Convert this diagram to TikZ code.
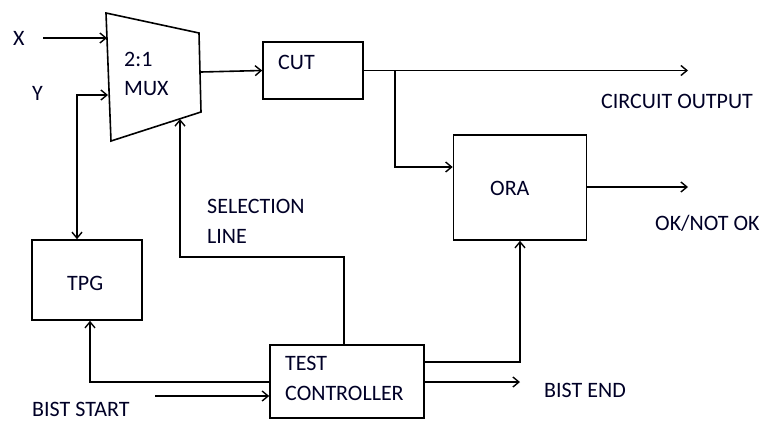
\documentclass[tikz,border=0pt]{standalone}
\usepackage{fontspec}
\setmainfont{Carlito}
\usetikzlibrary{arrows.meta}
\begin{document}
\begin{tikzpicture}[x=1pt,y=-1pt,
  wire/.style={line width=1.6pt, line join=miter},
  arr/.style={wire, -{Straight Barb[length=6pt,width=10pt,line width=1.4pt]}},
  darr/.style={wire, {Straight Barb[length=6pt,width=10pt,line width=1.4pt]}-{Straight Barb[length=6pt,width=10pt,line width=1.4pt]}},
  blk/.style={draw, line width=1.6pt, rectangle, inner sep=0pt},
  lbl/.style={anchor=base west, inner sep=0pt, text=black!85!blue, font=\fontsize{22}{22}\selectfont}
]
\useasboundingbox (0,0) rectangle (761,421);
% MUX
\coordinate (m1) at (106,13);
\coordinate (m2) at (199,33);
\coordinate (m3) at (201,112);
\coordinate (m4) at (111,141);
\draw[wire, line join=miter] (m1) -- (m2) -- (m3) -- (m4) -- cycle;
\coordinate (xin) at (107,38);
\coordinate (yin) at (108,95);
\coordinate (mout) at (201,72);
\coordinate (msel) at (180,119);
% boxes
\node[blk, minimum width=100pt, minimum height=57pt] (cut) at (313,70.5) {};
\node[blk, minimum width=133pt, minimum height=105pt] (ora) at (520,187.5) {};
\node[blk, minimum width=110pt, minimum height=80pt] (tpg) at (87,280) {};
\node[blk, minimum width=154pt, minimum height=73pt] (tc) at (347,381.5) {};
% labels
\node[lbl] (lx) at (13,45) {X};
\node[lbl] (ly) at (32,100) {Y};
\node[lbl] (l21) at (124,66) {2:1};
\node[lbl] (lmux) at (124,95) {MUX};
\node[lbl] (lcut) at (278,69) {CUT};
\node[lbl] (lora) at (490,195) {ORA};
\node[lbl] (ltpg) at (67,290) {TPG};
\node[lbl] (ltest) at (285,370) {TEST};
\node[lbl] (lctrl) at (285,400) {CONTROLLER};
\node[lbl] (lsel) at (207,213) {SELECTION};
\node[lbl] (lline) at (207,243) {LINE};
\node[lbl] (lco) at (601,108) {CIRCUIT OUTPUT};
\node[lbl] (lok) at (655,230) {OK/NOT OK};
\node[lbl] (lbe) at (544,397) {BIST END};
\node[lbl] (lbs) at (32,416) {BIST START};
% coordinates for free ends
\coordinate (xstart) at (43,38);
\coordinate (ybend) at (77,95);
\coordinate (coend) at (688,70.5);
\coordinate (branch) at (395,70.5);
\coordinate (okend) at (688,187);
\coordinate (beend) at (520,382);
\coordinate (bsstart) at (155,396);
\coordinate (selbend) at (344,257);
% connectors
\draw[arr] (xstart) -- (xin);
\draw[darr] (ybend |- tpg.north) -- (ybend) -- (yin);
\draw[arr] (mout) -- (cut.west);
\draw[arr] (cut.east) -- (coend);
\draw[arr] (branch) |- (ora.west |- 0,167);
\draw[arr] (ora.east |- okend) -- (okend);
\draw[arr] (tc.north -| selbend) -- (selbend) -| (msel);
\draw[arr] (tc.west |- 0,382) -| (tpg.south -| 90,0);
\draw[arr] (bsstart) -- (tc.west |- bsstart);
\draw[arr] (tc.east |- 0,362) -| (ora.south);
\draw[arr] (tc.east |- beend) -- (beend);
\end{tikzpicture}
\end{document}
